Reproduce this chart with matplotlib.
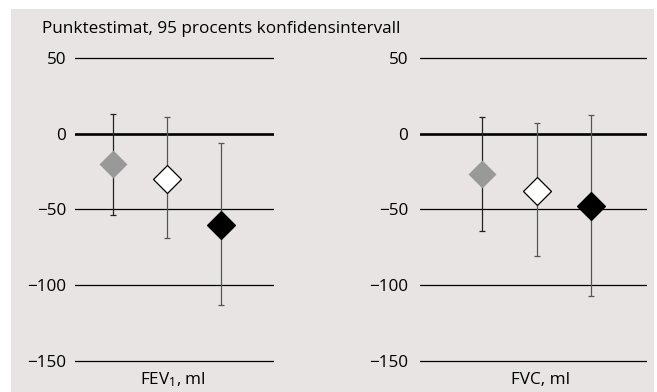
import matplotlib
matplotlib.use("Agg")
import matplotlib.pyplot as plt
from matplotlib.patches import Rectangle

plt.rcParams["font.family"] = ["Open Sans", "DejaVu Sans"]

# values (ml)
panel_labels = [r"$\mathregular{FEV_1}$, ml", "FVC, ml"]
yticks = [50, 0, -50, -100, -150]
fev_est = [-20, -30, -60]
fev_lo = [-54, -69, -113]
fev_hi = [13, 11, -6]
fvc_est = [-27, -38, -48]
fvc_lo = [-64, -81, -107]
fvc_hi = [11, 7, 12]

marker_face = ["#999999", "white", "black"]
marker_edge = ["none", "black", "black"]
bar_color = ["#222222", "#555555", "#555555"]

W, H = 657, 392
fig = plt.figure(figsize=(W / 100, H / 100), dpi=100, facecolor="white")
fig.patches.append(Rectangle((11 / W, 0), (654 - 11) / W, 1 - 9 / H,
                             transform=fig.transFigure, facecolor="#e8e4e4",
                             edgecolor="none", zorder=-5))

bottom = 1 - 368.6 / H
height = (368.6 - 50.1) / H
fs = 12.3
setups = [
    (74.7, 274.0, (-0.70, 2.976), fev_est, fev_lo, fev_hi, 6.3, 173),
    (420.0, 646.7, (-1.146, 3.025), fvc_est, fvc_lo, fvc_hi, 8.4, 540.7),
]

for i, (x0, x1, xlim, est, lo, hi, pad, lab_x) in enumerate(setups):
    ax = fig.add_axes([x0 / W, bottom, (x1 - x0) / W, height])
    ax.set_facecolor("none")
    ax.set_xlim(*xlim)
    ax.set_ylim(-155, 55)
    for y in yticks:
        ax.axhline(y, color="black", lw=1.9 if y == 0 else 0.9, zorder=1)
    for k in range(3):
        ax.errorbar(k, est[k], yerr=[[est[k] - lo[k]], [hi[k] - est[k]]],
                    fmt="none", ecolor=bar_color[k], elinewidth=0.9,
                    capsize=1.9, capthick=0.9, zorder=2)
        ax.plot(k, est[k], marker="D", ms=14, mfc=marker_face[k],
                mec=marker_edge[k], mew=0.9, zorder=3)
    for s in ax.spines.values():
        s.set_visible(False)
    ax.set_xticks([])
    ax.set_yticks(yticks)
    ax.set_yticklabels(["50", "0", "\u221250", "\u2212100", "\u2212150"])
    ax.tick_params(axis="y", length=0, pad=pad, labelsize=fs)
    fig.text(lab_x / W, 1 - 380 / H, panel_labels[i], ha="center",
             va="center", fontsize=fs)

fig.text(42 / W, 1 - 29 / H, "Punktestimat, 95 procents konfidensintervall",
         ha="left", va="center", fontsize=fs)

fig.savefig("out.png", dpi=100, facecolor="white")
